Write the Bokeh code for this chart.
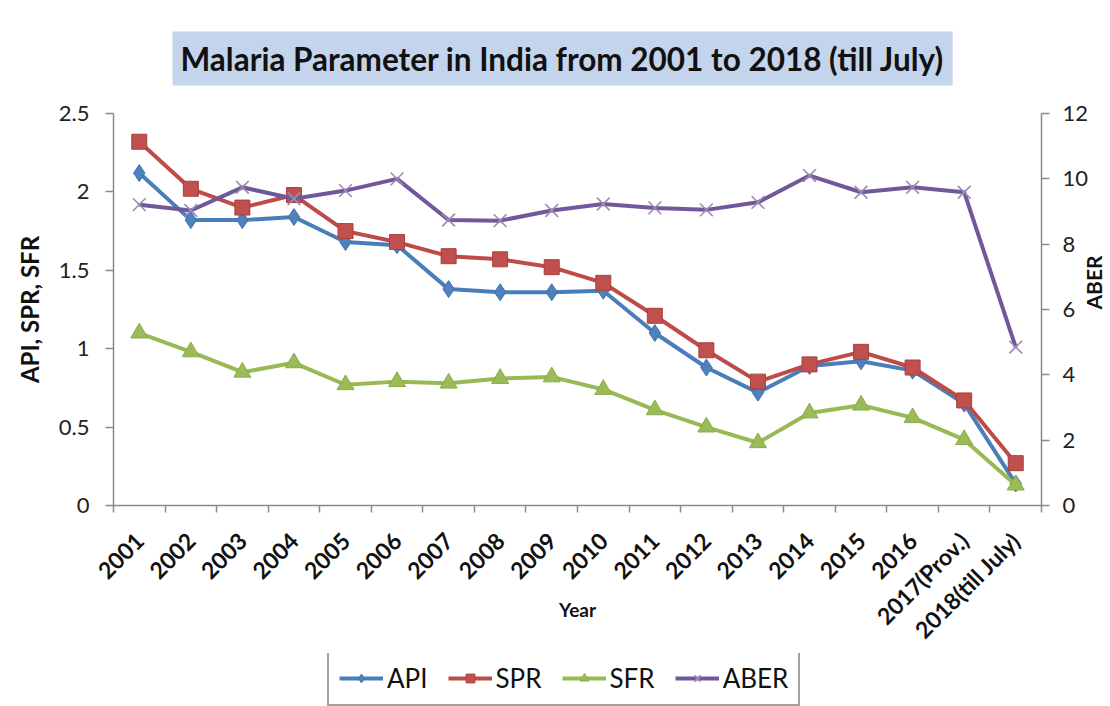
from bokeh.plotting import figure
from bokeh.layouts import column
from bokeh.models import (Range1d, LinearAxis, FixedTicker, NumeralTickFormatter,
                          Legend, LegendItem)
from bokeh.embed import file_html
from bokeh.resources import INLINE
import math

# Malaria indicators, India 2001 - 2018 (till July)
years = ["2001", "2002", "2003", "2004", "2005", "2006", "2007", "2008", "2009",
         "2010", "2011", "2012", "2013", "2014", "2015", "2016", "2017(Prov.)",
         "2018(till July)"]
api = [2.12, 1.82, 1.82, 1.84, 1.68, 1.66, 1.38, 1.36, 1.36, 1.37, 1.10, 0.88,
       0.72, 0.89, 0.92, 0.86, 0.65, 0.14]
spr = [2.32, 2.02, 1.90, 1.98, 1.75, 1.68, 1.59, 1.57, 1.52, 1.42, 1.21, 0.99,
       0.79, 0.90, 0.98, 0.88, 0.67, 0.27]
sfr = [1.10, 0.98, 0.85, 0.91, 0.77, 0.79, 0.78, 0.81, 0.82, 0.74, 0.61, 0.50,
       0.40, 0.59, 0.64, 0.56, 0.42, 0.13]
aber = [9.21, 9.03, 9.74, 9.39, 9.64, 10.0, 8.74, 8.72, 9.03, 9.23, 9.11, 9.05,
        9.28, 10.1, 9.59, 9.74, 9.59, 4.85]

left_ticks = [0, 0.5, 1, 1.5, 2, 2.5]
right_ticks = [0, 2, 4, 6, 8, 10, 12]
series_names = ["API", "SPR", "SFR", "ABER"]

FONT = "Lato"
AXIS_COLOR = "#8a8a8a"
n = len(years)
xs = [i + 0.5 for i in range(n)]
values = {"API": api, "SPR": spr, "SFR": sfr, "ABER": aber}

# per-series styling: line colour, marker, marker size, fill, outline
STYLE = {
    "API": dict(line="#4A7EBB", marker="diamond", size=17, fill="#4F81BD", edge="#3F71AD", lw=1),
    "SPR": dict(line="#BE4B48", marker="square", size=15, fill="#C0504D", edge="#A8403D", lw=1),
    "SFR": dict(line="#98B954", marker="triangle", size=17, fill="#9BBB59", edge="#8BAB49", lw=1),
    "ABER": dict(line="#71589A", marker="x", size=18, fill=None, edge="#9B8AB5", lw=1.6),
}


def draw_series(fig, name, **kw):
    s = STYLE[name]
    y = values[name]
    ln = fig.line(xs, y, line_color=s["line"], line_width=4, **kw)
    mk = fig.scatter(xs, y, marker=s["marker"], size=s["size"], fill_color=s["fill"],
                     line_color=s["edge"], line_width=s["lw"], **kw)
    return [ln, mk]


p = figure(frame_width=928, frame_height=392, output_backend="svg",
           toolbar_location=None, x_range=Range1d(0, n), y_range=Range1d(0, 2.5),
           min_border_left=113, min_border_right=69, min_border_top=113,
           min_border_bottom=148)
p.extra_y_ranges = {"aber": Range1d(0, 12)}
p.grid.visible = False
p.outline_line_color = None
p.background_fill_color = "white"
p.border_fill_color = "white"

# title in a shaded box
p.title.text = "Malaria Parameter in India from 2001 to 2018 (till July)"
p.title.align = "left"
p.title.offset = 59
p.title.text_font = FONT
p.title.text_font_style = "bold"
p.title.text_font_size = "31.5px"
p.title.text_color = "#111111"
p.title.background_fill_color = "#C4D4EC"
p.title.padding = 8
p.title.standoff = 56

# category axis: labels at the centres, tick marks on the boundaries
xa = p.xaxis[0]
xa.ticker = FixedTicker(ticks=xs, minor_ticks=list(range(n + 1)))
xa.major_label_overrides = {x: y for x, y in zip(xs, years)}
xa.major_label_orientation = math.pi / 4
xa.major_label_text_font = FONT
xa.major_label_text_font_style = "bold"
xa.major_label_text_font_size = "23px"
xa.major_label_text_color = "#111111"
xa.major_label_standoff = 24
xa.major_tick_line_color = None
xa.minor_tick_line_color = AXIS_COLOR
xa.minor_tick_line_width = 1.5
xa.minor_tick_out = 7
xa.minor_tick_in = 0
xa.axis_line_color = AXIS_COLOR
xa.axis_line_width = 1.5
xa.axis_label = "Year"
xa.axis_label_text_font = FONT
xa.axis_label_text_font_style = "bold"
xa.axis_label_text_font_size = "19px"
xa.axis_label_text_color = "#111111"
xa.axis_label_standoff = -58

ya = p.yaxis[0]
ya.ticker = FixedTicker(ticks=left_ticks)
ya.formatter = NumeralTickFormatter(format="0.[0]")
ya.axis_label = "API, SPR, SFR"
ya.axis_label_standoff = 12

right = LinearAxis(y_range_name="aber", ticker=FixedTicker(ticks=right_ticks))
right.axis_label = "ABER"
right.axis_label_standoff = 2
if "axis_label_orientation" in right.properties():
    right.axis_label_orientation = math.pi / 2
p.add_layout(right, "right")

for ax in (ya, right):
    ax.major_label_text_font = FONT
    ax.major_label_text_font_size = "22px"
    ax.major_label_text_color = "#222222"
    ax.major_label_standoff = 13
    ax.major_tick_out = 8
    ax.major_tick_in = 0
    ax.minor_tick_line_color = None
    ax.major_tick_line_color = AXIS_COLOR
    ax.major_tick_line_width = 1.5
    ax.axis_line_color = AXIS_COLOR
    ax.axis_line_width = 1.5
    ax.axis_label_text_font = FONT
    ax.axis_label_text_font_style = "bold"
    ax.axis_label_text_color = "#111111"
ya.major_label_standoff = 16
ya.axis_label_text_font_size = "24px"
right.axis_label_text_font_size = "21px"

for name in series_names:
    extra = {"y_range_name": "aber"} if name == "ABER" else {}
    draw_series(p, name, **extra)

# legend strip underneath the chart; its series lie outside the strip's
# visible range, so only the legend entries show
lg = figure(width=1110, height=53, output_backend="svg", toolbar_location=None,
            x_axis_location=None, y_axis_location=None, min_border=0,
            x_range=Range1d(-2, -1), y_range=Range1d(-2, -1))
lg.grid.visible = False
lg.outline_line_color = None
lg.border_fill_color = "white"
lg.background_fill_color = "white"

items = [LegendItem(label=name, renderers=draw_series(lg, name)) for name in series_names]

legend = Legend(items=items, location=(214, 0), orientation="horizontal")
legend.label_text_font = FONT
legend.label_text_font_size = "26px"
legend.label_text_color = "#111111"
legend.glyph_width = 44
legend.glyph_height = 22
legend.label_standoff = 4
legend.spacing = 20
legend.padding = 10
legend.margin = 0
legend.border_line_color = "#444444"
legend.border_line_width = 2
legend.background_fill_color = "white"
legend.background_fill_alpha = 1
lg.add_layout(legend, "center")

page = column(p, lg, spacing=0)
open("out.html", "w").write(file_html(page, INLINE))
